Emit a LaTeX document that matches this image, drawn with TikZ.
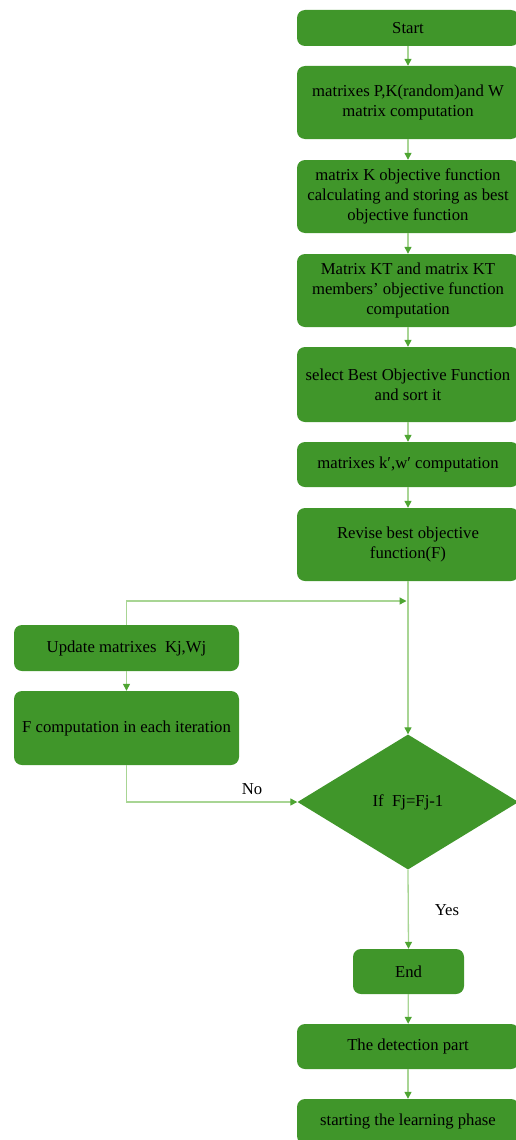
\documentclass[tikz,border=0pt]{standalone}
\usepackage{fontspec}
\setmainfont{Liberation Serif}
\usepackage{xcolor}
\usetikzlibrary{arrows.meta, positioning, shapes.geometric}

\definecolor{boxgreen}{RGB}{64,150,42}
\definecolor{linegreen}{RGB}{168,213,148}
\definecolor{tipgreen}{RGB}{78,165,50}

\tikzset{
    stepbox/.style={rectangle, rounded corners=8pt, fill=boxgreen, text=black,
        align=center, inner sep=0pt, minimum width=222pt,
        font=\fontsize{16.7}{20}\selectfont},
    decision/.style={diamond, fill=boxgreen, text=black, inner sep=0pt,
        minimum width=221pt, minimum height=135pt,
        font=\fontsize{16.7}{20}\selectfont},
    flow/.style={draw=linegreen, line width=1.3pt,
        -{Triangle[width=7pt, length=7pt, color=tipgreen]}},
    lbl/.style={font=\fontsize{16.7}{20}\selectfont, text=black}
}

\begin{document}
\begin{tikzpicture}[x=1pt, y=-1pt]
    \useasboundingbox (0,0) rectangle (516,1140);
    % main column
    \node[stepbox, minimum height=36pt] (start) at (408,28) {Start};
    \node[stepbox, minimum height=73pt] (mat) at (408,102.5)
        {matrixes P,K(random)and W\\matrix computation};
    \node[stepbox, minimum height=73pt] (obj) at (408,196.5)
        {matrix K objective function\\calculating and storing as best\\objective function};
    \node[stepbox, minimum height=73pt] (kt) at (408,290.5)
        {Matrix KT and matrix KT\\members’ objective function\\computation};
    \node[stepbox, minimum height=75pt] (sel) at (408,384.5)
        {select Best Objective Function\\and sort it};
    \node[stepbox, minimum height=45pt] (kw) at (408,464.5)
        {matrixes k′,w′ computation};
    \node[stepbox, minimum height=73pt] (rev) at (408,544.5)
        {Revise best objective\\function(F)};
    \coordinate (join) at (408,601);
    % loop on the left
    \node[stepbox, minimum width=225pt, minimum height=46pt] (upd) at (126.5,648)
        {Update matrixes\ \ Kj,Wj};
    \node[stepbox, minimum width=225pt, minimum height=74pt] (fcomp) at (126.5,728)
        {F computation in each iteration};
    \node[decision] (cond) at (408,802) {If\ \ Fj=Fj-1};
    \node[stepbox, minimum width=111pt, minimum height=45pt] (fin) at (408.5,971.5) {End};
    \node[stepbox, minimum height=45pt] (det) at (408,1046.5) {The detection part};
    \node[stepbox, minimum height=45pt] (learn) at (408,1121.5) {starting the learning phase};

    \node[lbl] (nolbl) at (252,789) {No};
    \node[lbl] (yeslbl) at (447,910) {Yes};

    \draw[flow] (start) -- (mat);
    \draw[flow] (mat) -- (obj);
    \draw[flow] (obj) -- (kt);
    \draw[flow] (kt) -- (sel);
    \draw[flow] (sel) -- (kw);
    \draw[flow] (kw) -- (rev);
    \draw[flow] (rev) -- (cond);
    \draw[flow, shorten >=1.5pt] (upd.north) |- (join);
    \draw[flow] (upd) -- (fcomp);
    \draw[flow] (fcomp.south) |- (cond.west);
    \draw[flow] (cond.south) -- (fin.north);
    \draw[flow] (fin) -- (det);
    \draw[flow] (det) -- (learn);
\end{tikzpicture}
\end{document}
